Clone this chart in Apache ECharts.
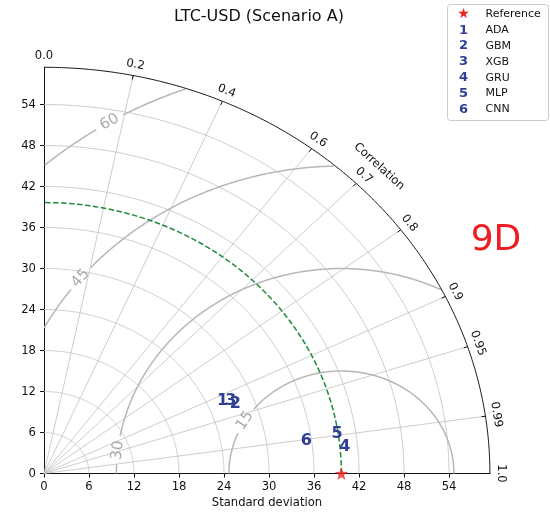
<!DOCTYPE html>
<html><head><meta charset="utf-8">
<script src="https://cdn.jsdelivr.net/npm/echarts@6/dist/echarts.min.js"></script>
<style>html,body{margin:0;padding:0;background:#fff}#c{width:550px;height:520px}</style>
</head><body><div id="c"></div>
<script>
// ---- data ----
const chartTitle = 'LTC-USD (Scenario A)';
const annotation = '9D';
const refName = 'Reference';
const refStd = 39.65;
const modelNames = ['ADA', 'GBM', 'XGB', 'GRU', 'MLP', 'CNN'];
const modelLabels = ['1', '2', '3', '4', '5', '6'];
const modelStd = [26.1, 27.5, 27.1, 40.3, 39.5, 35.3];
const modelCorr = [0.912, 0.928, 0.919, 0.9953, 0.9889, 0.9907];
const stdTicks = [0, 6, 12, 18, 24, 30, 36, 42, 48, 54];
const corrTicks = [0.0, 0.2, 0.4, 0.6, 0.7, 0.8, 0.9, 0.95, 0.99, 1.0];
const corrTickLabels = ['0.0', '0.2', '0.4', '0.6', '0.7', '0.8', '0.9', '0.95', '0.99', '1.0'];
const rmsLevels = [15, 30, 45, 60];
const rmsLabelAngles = [149, 173.5, 140.6, 121];
const stdMax = 59.45;

// ---- styles ----
const FONT = 'DejaVu Sans';
const BLUE = '#2f3f98';
const GRID = '#c0c0c0';
const CONTOUR = '#b7b7b7';
const TICKFS = 11.6;

const chart = echarts.init(document.getElementById('c'), null, {renderer: 'canvas'});

function tangentRot(px, py) {
  let a = Math.atan2(-py, px);
  while (a > Math.PI / 2 + 1e-9) a -= Math.PI;
  while (a <= -Math.PI / 2 - 1e-9) a += Math.PI;
  return a;
}

function renderFrame(params, api) {
  if (params.dataIndex !== 0) return;
  const ch = [];
  const c = (x, y) => api.coord([x, y]);
  const o = c(0, 0);
  const pe = c(stdMax, stdMax);
  const sx = (pe[0] - o[0]) / stdMax, sy = (o[1] - pe[1]) / stdMax;
  const N = 180;
  stdTicks.forEach(s => {
    if (s <= 0) return;
    const pts = [];
    for (let i = 0; i <= N; i++) {
      const t = (Math.PI / 2) * i / N;
      pts.push(c(s * Math.cos(t), s * Math.sin(t)));
    }
    ch.push({type: 'polyline', shape: {points: pts}, style: {stroke: GRID, lineWidth: 0.8, fill: null}, silent: true});
  });
  corrTicks.forEach(r => {
    if (r <= 0 || r >= 1) return;
    const t = Math.acos(r);
    ch.push({type: 'line', shape: {x1: o[0], y1: o[1], x2: c(stdMax * Math.cos(t), 0)[0], y2: c(0, stdMax * Math.sin(t))[1]},
      style: {stroke: GRID, lineWidth: 0.8}, silent: true});
  });
  rmsLevels.forEach((R, k) => {
    const la = rmsLabelAngles[k] * Math.PI / 180;
    const lp = c(refStd + R * Math.cos(la), R * Math.sin(la));
    let seg = [];
    const flush = () => { if (seg.length > 1) ch.push({type: 'polyline', shape: {points: seg}, style: {stroke: CONTOUR, lineWidth: 1.5, fill: null}, silent: true}); seg = []; };
    const M = 720;
    for (let i = 0; i <= M; i++) {
      const f = Math.PI * i / M;
      const x = refStd + R * Math.cos(f), y = R * Math.sin(f);
      const p = c(x, y);
      const ok = x >= 0 && y >= 0 && Math.hypot(x, y) <= stdMax &&
        Math.hypot(p[0] - lp[0], p[1] - lp[1]) > 14;
      if (ok) seg.push(p); else flush();
    }
    flush();
    const tx = -Math.sin(la) * sx, ty = -Math.cos(la) * sy;
    ch.push({type: 'text', x: lp[0], y: lp[1], rotation: tangentRot(tx, ty),
      style: {text: String(R), fontSize: 15, fontFamily: FONT, fill: '#aaaaaa', align: 'center', verticalAlign: 'middle'}, silent: true});
  });
  {
    const pts = [];
    for (let i = 0; i <= N; i++) {
      const t = (Math.PI / 2) * i / N;
      pts.push(c(refStd * Math.cos(t), refStd * Math.sin(t)));
    }
    ch.push({type: 'polyline', shape: {points: pts}, style: {stroke: '#1f8a3c', lineWidth: 1.5, fill: null, lineDash: [5.5, 2.5]}, silent: true});
  }
  {
    const pts = [];
    for (let i = 0; i <= N * 2; i++) {
      const t = (Math.PI / 2) * i / (N * 2);
      pts.push(c(stdMax * Math.cos(t), stdMax * Math.sin(t)));
    }
    ch.push({type: 'polyline', shape: {points: pts}, style: {stroke: '#111', lineWidth: 1, fill: null}, silent: true});
  }
  corrTicks.forEach((r, k) => {
    const t = Math.acos(r);
    const p = c(stdMax * Math.cos(t), stdMax * Math.sin(t));
    const ux = Math.cos(t), uy = -Math.sin(t);
    if (r > 0 && r < 1) {
      ch.push({type: 'line', shape: {x1: p[0], y1: p[1], x2: p[0] - 4 * ux, y2: p[1] - 4 * uy}, style: {stroke: '#111', lineWidth: 1}, silent: true});
    }
    const tx = -Math.sin(t) * sx, ty = -Math.cos(t) * sy;
    let rot = tangentRot(tx, ty);
    if (r >= 1) rot = -Math.PI / 2;
    ch.push({type: 'text', x: p[0] + 11 * ux, y: p[1] + 11 * uy, rotation: rot,
      style: {text: corrTickLabels[k], fontSize: TICKFS, fontFamily: FONT, fill: '#111', align: 'center', verticalAlign: 'middle'}, silent: true});
  });
  {
    const t = Math.PI / 4;
    const p = c(stdMax * Math.cos(t), stdMax * Math.sin(t));
    const ux = Math.cos(t), uy = -Math.sin(t);
    const tx = -Math.sin(t) * sx, ty = -Math.cos(t) * sy;
    ch.push({type: 'text', x: p[0] + 28 * ux, y: p[1] + 28 * uy, rotation: tangentRot(tx, ty),
      style: {text: 'Correlation', fontSize: TICKFS, fontFamily: FONT, fill: '#111', align: 'center', verticalAlign: 'middle'}, silent: true});
  }
  return {type: 'group', children: ch};
}

const modelData = modelStd.map((s, i) => [s * modelCorr[i], s * Math.sin(Math.acos(modelCorr[i])), i]);

const starPath = 'path://M0,-10L2.35,-3.24L9.51,-3.09L3.8,1.24L5.88,8.09L0,4L-5.88,8.09L-3.8,1.24L-9.51,-3.09L-2.35,-3.24Z';

const legendItems = [{mark: '★', name: refName, color: '#ee2222', star: true}]
  .concat(modelNames.map((n, i) => ({mark: modelLabels[i], name: n, color: BLUE})));

const legendGraphic = {
  type: 'group', left: 447, top: 4,
  children: [{type: 'rect', shape: {x: 0, y: 0, width: 101, height: 116, r: 3}, style: {fill: '#fff', stroke: '#cccccc', lineWidth: 1}}]
    .concat(legendItems.flatMap((it, i) => [
      {type: 'text', x: 16, y: 10 + 15.8 * i, style: {text: it.mark, fontSize: it.star ? 14 : 13, fontWeight: it.star ? 'normal' : 'bold', fontFamily: FONT, fill: it.color, align: 'center', verticalAlign: 'middle'}},
      {type: 'text', x: 38, y: 10 + 15.8 * i, style: {text: it.name, fontSize: 11, fontFamily: FONT, fill: '#111', align: 'left', verticalAlign: 'middle'}}
    ]))
};

const option = {
  animation: false,
  backgroundColor: '#fff',
  grid: {left: 44, top: 67.3, width: 445.9, height: 406.2, containLabel: false},
  xAxis: {
    type: 'value', min: 0, max: stdMax,
    name: 'Standard deviation', nameLocation: 'middle', nameGap: 23,
    nameTextStyle: {fontSize: TICKFS, fontFamily: FONT, color: '#111'},
    axisLine: {show: true, onZero: false, lineStyle: {color: '#111', width: 1}},
    axisTick: {show: true, length: 4, lineStyle: {color: '#111'}, customValues: stdTicks},
    axisLabel: {fontSize: TICKFS, fontFamily: FONT, color: '#111', margin: 7, customValues: stdTicks},
    splitLine: {show: false}
  },
  yAxis: {
    type: 'value', min: 0, max: stdMax,
    axisLine: {show: true, onZero: false, lineStyle: {color: '#111', width: 1}},
    axisTick: {show: true, length: 4, lineStyle: {color: '#111'}, customValues: stdTicks},
    axisLabel: {fontSize: TICKFS, fontFamily: FONT, color: '#111', margin: 8, customValues: stdTicks},
    splitLine: {show: false}
  },
  graphic: [
    {type: 'text', x: 259, y: 17, style: {text: chartTitle, fontSize: 16, fontFamily: FONT, fill: '#111', align: 'center', verticalAlign: 'middle'}},
    {type: 'text', x: 496, y: 241, style: {text: annotation, fontSize: 36, fontFamily: FONT, fill: '#ee1d23', align: 'center', verticalAlign: 'middle'}},
    legendGraphic
  ],
  series: [
    {type: 'custom', coordinateSystem: 'cartesian2d', data: [[0, 0]], renderItem: renderFrame, clip: false, z: 1, silent: true},
    {type: 'custom', coordinateSystem: 'cartesian2d', data: modelData, clip: false, z: 5, silent: true,
      renderItem: (params, api) => {
        const p = api.coord([api.value(0), api.value(1)]);
        return {type: 'text', x: p[0], y: p[1], style: {text: modelLabels[api.value(2)], fontSize: 16, fontWeight: 'bold', fontFamily: FONT, fill: BLUE, align: 'center', verticalAlign: 'middle'}};
      }},
    {type: 'scatter', data: [[refStd, 0]], symbol: starPath, symbolSize: 13, itemStyle: {color: '#ee2222'}, z: 6, silent: true, clip: false}
  ]
};
chart.setOption(option);
</script>
</body></html>
